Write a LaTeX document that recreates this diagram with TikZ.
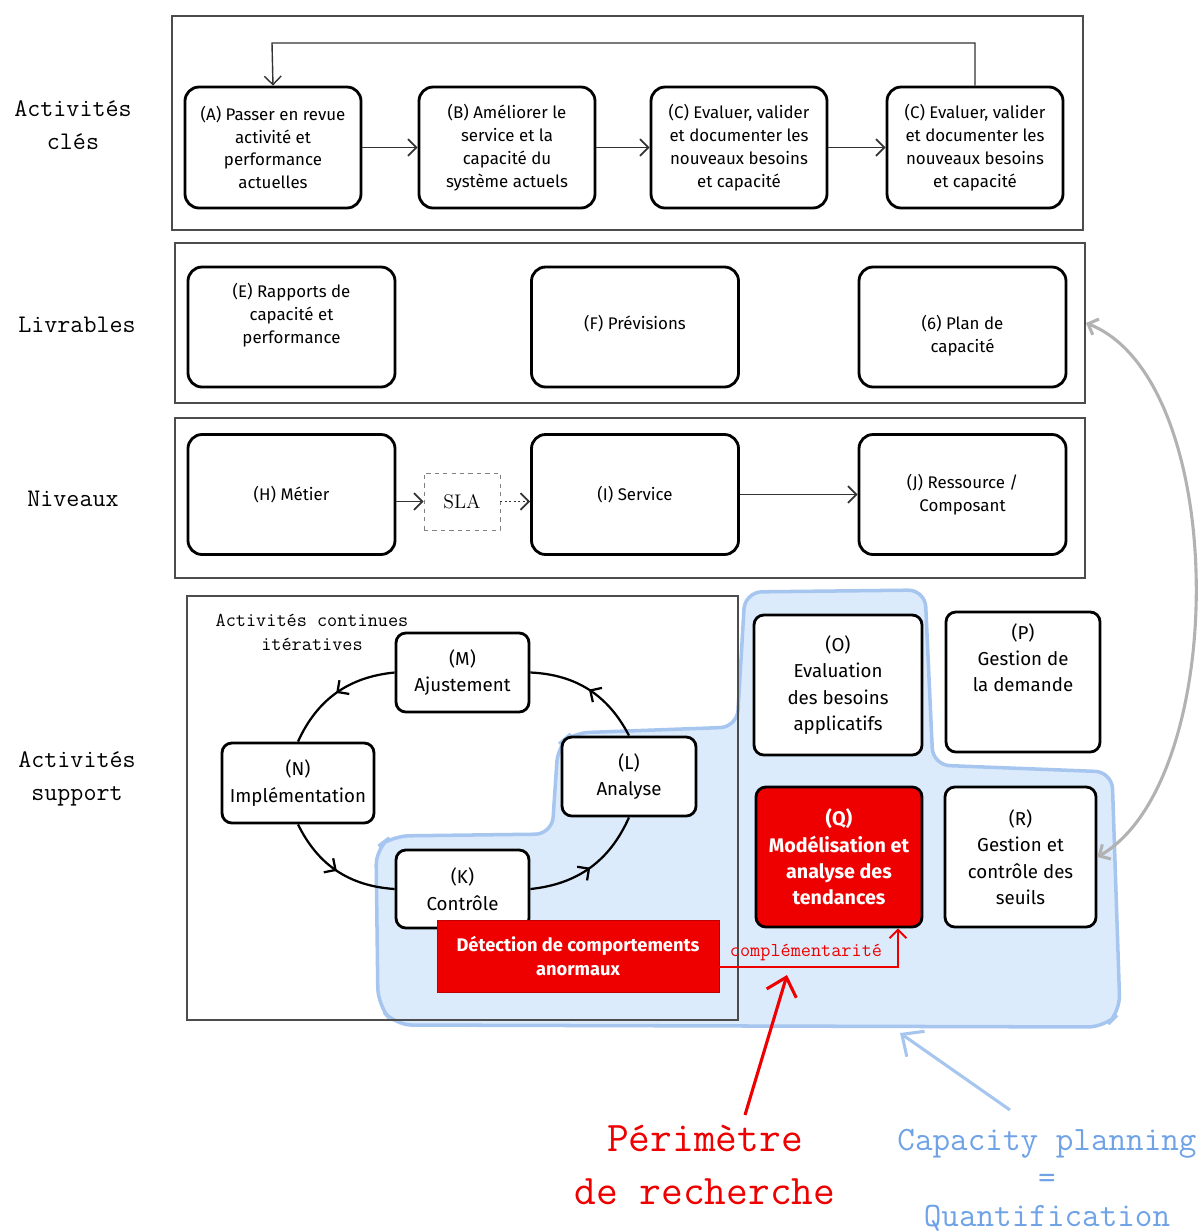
\documentclass[tikz,border=0pt]{standalone}
\usepackage{fontspec}
\newfontfamily\handfont{Fira Sans}
\usetikzlibrary{positioning,calc,arrows.meta,decorations.markings}

\definecolor{cpfill}{HTML}{DCEBFB}
\definecolor{cpline}{HTML}{A6C6F0}
\definecolor{cptext}{HTML}{6FA3E6}
\definecolor{scopered}{HTML}{EE0000}
\def\pxu{0.025cm} % one pixel of the layout

\begin{document}
\begin{tikzpicture}[x=0.025cm, y=-0.025cm,
  >={Straight Barb[length=6pt,width=12pt]},
  frame/.style={draw=black!70, line width=1.4pt, inner sep=0pt},
  stepbox/.style={draw, line width=2pt, rounded corners=10pt, fill=white, align=center, inner sep=2pt,
    font=\handfont\fontsize{12}{16.3}\selectfont},
  keybox/.style={stepbox, minimum width=176*\pxu, minimum height=121*\pxu},
  widebox/.style={stepbox, minimum width=207*\pxu, minimum height=120*\pxu},
  cycbox/.style={stepbox, rounded corners=7pt, font=\handfont\fontsize{13.3}{18.8}\selectfont},
  supbox/.style={cycbox, minimum height=140*\pxu},
  alertbox/.style={fill=scopered, text=white, align=center, font=\handfont\bfseries\fontsize{13}{17}\selectfont},
  rowlabel/.style={align=center, font=\ttfamily\fontsize{18}{23}\selectfont},
  flow/.style={->, line width=1.2pt, draw=black!80},
  cyc/.style={line width=1.6pt, postaction={decorate},
    decoration={markings, mark=at position 0.5 with {\arrow{>}}}}
]
\useasboundingbox (0,0) rectangle (1203,1232);

% row labels
\node[rowlabel] (lblkeys) at (73,125) {Activités\\clés};
\node[rowlabel] (lbldeliv) at (77,325) {Livrables};
\node[rowlabel] (lbllevels) at (73,499) {Niveaux};
\node[rowlabel] (lblsupport) at (77,779) {Activités\\support};

% capacity planning area
\fill[cpfill, draw=cpline, line width=2.5pt, rounded corners=12pt]
  (745,592) -- (925,590) -- (933,765) -- (1112,772) -- (1120,1012) -- (1105,1027)
  -- (395,1025) -- (378,1005) -- (376,848) -- (392,836) -- (552,834) -- (558,745)
  -- (572,733) -- (737,727) -- cycle;

% frames
\node[frame, minimum width=911*\pxu, minimum height=214*\pxu] (keysframe) at (627.5,123) {};
\node[frame, minimum width=910*\pxu, minimum height=160*\pxu] (delivframe) at (630,323) {};
\node[frame, minimum width=910*\pxu, minimum height=160*\pxu] (levelframe) at (630,498) {};
\node[frame, minimum width=551*\pxu, minimum height=424*\pxu] (supframe) at (462.5,808) {};

% key activities
\node[keybox] (A) at (273,147.5) {(A) Passer en revue\\activité et\\performance\\actuelles};
\node[keybox] (B) at (507,147.5) {(B) Améliorer le\\service et la\\capacité du\\système actuels};
\node[keybox] (C) at (739,147.5) {(C) Evaluer, valider\\et documenter les\\nouveaux besoins\\et capacité};
\node[keybox] (D) at (975,147.5) {(C) Evaluer, valider\\et documenter les\\nouveaux besoins\\et capacité};
\draw[flow] (A) -- (B);
\draw[flow] (B) -- (C);
\draw[flow] (C) -- (D);
\coordinate (back) at (272,43);
\draw[flow, line width=1pt] (D.north) |- (back) -- (A.north);

% deliverables
\node[widebox] (E) at (291.5,327) {(E) Rapports de\\capacité et\\performance\\[3pt]};
\node[widebox] (F) at (635,327) {\raisebox{7pt}{(F) Prévisions}};
\node[widebox] (G) at (962.5,327) {\rule{0pt}{23pt}(6) Plan de\\capacité};

% levels
\node[widebox] (H) at (291.5,494.5) {(H) Métier};
\node[draw=black!50, dashed, line width=0.6pt, minimum width=76*\pxu, minimum height=57*\pxu,
  font=\rmfamily\fontsize{14}{16}\selectfont] (sla) at (462,501.5) {SLA};
\node[widebox] (I) at (635,494.5) {(I) Service};
\node[widebox] (J) at (962.5,494.5) {(J) Ressource /\\Composant};
\draw[flow] (H.east |- sla) -- (sla);
\draw[flow, dotted] (sla) -- (I.west |- sla);
\draw[flow] (I) -- (J);

% continuous activities
\node[align=center, font=\ttfamily\fontsize{14}{17}\selectfont] (cont) at (312,632) {Activités continues\\itératives};
\node[cycbox, minimum width=133*\pxu, minimum height=79*\pxu] (M) at (462.5,672.5) {(M)\\Ajustement};
\node[cycbox, minimum width=152*\pxu, minimum height=80*\pxu] (N) at (298,783) {(N)\\Implémentation};
\node[cycbox, minimum width=134*\pxu, minimum height=79*\pxu] (L) at (629,776.5) {(L)\\Analyse};
\node[cycbox, minimum width=133*\pxu, minimum height=78*\pxu] (K) at (462.5,889) {(K)\\Contrôle};
\draw[cyc] (M.west) to[bend right=30] (N.north);
\draw[cyc] (N.south) to[bend right=30] (K.west);
\draw[cyc] (K.east) to[bend right=30] (L.south);
\draw[cyc] (L.north) to[bend right=30] (M.east);

\node[alertbox, draw=scopered!80!black, minimum width=282*\pxu, minimum height=72*\pxu] (detect) at (578,956)
  {Détection de comportements\\anormaux};

% support activities
\node[supbox, minimum width=168*\pxu] (O) at (838,685) {(O)\\Evaluation\\des besoins\\applicatifs};
\node[supbox, minimum width=154*\pxu] (P) at (1023,682) {(P)\\Gestion de\\la demande\\[16pt]};
\node[supbox, minimum width=166*\pxu, fill=scopered, text=white, font=\handfont\bfseries\fontsize{14}{18.8}\selectfont]
  (Q) at (839,857) {(Q)\\Modélisation et\\analyse des\\tendances};
\node[supbox, minimum width=151*\pxu] (R) at (1020.5,857) {(R)\\Gestion et\\contrôle des\\seuils};

\draw[->, scopered, line width=1.4pt] ($(detect.east)+(0,11)$) -| ($(Q.south)+(59,0)$);
\node[text=scopered, font=\ttfamily\fontsize{14}{16}\selectfont] (compl) at (806,953) {complémentarité};

\draw[<->, black!30, line width=2.2pt] (delivframe.east) .. controls (1230,380) and (1230,780) .. (R.east);

% scope notes
\node[text=scopered, align=center, font=\ttfamily\fontsize{30}{38}\selectfont] (perim) at (705,1165) {Périmètre\\de recherche};
\coordinate (redfoot) at (745,1115);
\coordinate (redhead) at (787,975);
\draw[->, scopered, line width=2.2pt, >={Straight Barb[length=12pt,width=22pt]}] (redfoot) -- (redhead);

\node[text=cptext, align=center, font=\ttfamily\fontsize{24.3}{27}\selectfont] (cpnote) at (1047,1180)
  {Capacity planning\\=\\Quantification};
\coordinate (bluefoot) at (1010,1110);
\coordinate (bluehead) at (900,1033);
\draw[->, cpline, line width=2.2pt, >={Straight Barb[length=12pt,width=22pt]}] (bluefoot) -- (bluehead);
\end{tikzpicture}
\end{document}
